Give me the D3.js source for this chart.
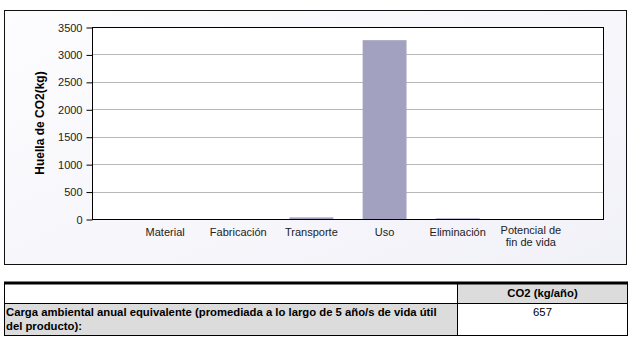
<!DOCTYPE html>
<html>
<head>
<meta charset="utf-8">
<script src="https://cdn.jsdelivr.net/npm/d3@7"></script>
<style>
  body { margin: 0; background: #ffffff; }
  text { font-family: "Liberation Sans", Arial, sans-serif; }
</style>
</head>
<body>
<div id="chart"></div>
<script>
// data
var categories = ["Material", "Fabricación", "Transporte", "Uso", "Eliminación", "Potencial de\nfin de vida"];
var co2Values = [0, 0, 30, 3260, 12, 0];
var yTicks = [0, 500, 1000, 1500, 2000, 2500, 3000, 3500];
var tableHeader = ["", "CO2 (kg/año)"];
var tableRow = ["Carga ambiental anual equivalente (promediada a lo largo de 5 año/s de vida útil\ndel producto):", "657"];

var W = 633, H = 355;
var svg = d3.select("#chart").append("svg")
    .attr("width", W)
    .attr("height", H);

var defs = svg.append("defs");
var grad = defs.append("linearGradient").attr("id", "bg")
    .attr("x1", "0").attr("y1", "0").attr("x2", "1").attr("y2", "1");
grad.append("stop").attr("offset", "0").attr("stop-color", "#fdfdff");
grad.append("stop").attr("offset", "1").attr("stop-color", "#f1f1f8");

// outer chart box
svg.append("rect")
    .attr("x", 4.5).attr("y", 10.5)
    .attr("width", 622).attr("height", 254)
    .attr("fill", "url(#bg)")
    .attr("stroke", "#111").attr("stroke-width", 1);

var plot = {left: 92, top: 27, right: 604, bottom: 219};

svg.append("rect")
    .attr("x", plot.left).attr("y", plot.top)
    .attr("width", plot.right - plot.left).attr("height", plot.bottom - plot.top)
    .attr("fill", "#ffffff");

var x = d3.scalePoint()
    .domain(categories)
    .range([plot.left, plot.right])
    .padding(1);

var y = d3.scaleLinear()
    .domain([0, 3500])
    .range([plot.bottom, plot.top]);

// grid lines
svg.append("g").selectAll("line")
    .data(yTicks.slice(1, -1))
    .join("line")
    .attr("x1", plot.left).attr("x2", plot.right)
    .attr("y1", function(d){ return Math.round(y(d)) + 0.5; })
    .attr("y2", function(d){ return Math.round(y(d)) + 0.5; })
    .attr("stroke", "#b8b8b8").attr("stroke-width", 1);

// bars
var barW = x.step() * 0.6;
svg.append("g").selectAll("rect")
    .data(categories)
    .join("rect")
    .attr("x", function(d){ return x(d) - barW / 2; })
    .attr("y", function(d, i){ return y(co2Values[i]); })
    .attr("width", barW)
    .attr("height", function(d, i){ return y(0) - y(co2Values[i]); })
    .attr("fill", "#a3a1c0");

// plot frame
svg.append("rect")
    .attr("x", plot.left + 0.5).attr("y", plot.top + 0.5)
    .attr("width", plot.right - plot.left - 1).attr("height", plot.bottom - plot.top)
    .attr("fill", "none")
    .attr("stroke", "#000").attr("stroke-width", 1);

// y axis
var yAxis = svg.append("g")
    .attr("transform", "translate(" + (plot.left + 0.5) + ",0.5)")
    .call(d3.axisLeft(y).tickValues(yTicks).tickSize(6).tickPadding(4).tickFormat(d3.format("d")));
yAxis.select(".domain").remove();
yAxis.selectAll("line").attr("stroke", "#000");
yAxis.selectAll("text")
    .attr("font-size", 11)
    .attr("fill", "#222")
    .attr("font-family", "Liberation Sans, Arial, sans-serif");

// y title
svg.append("text")
    .attr("transform", "translate(44," + ((plot.top + plot.bottom) / 2) + ") rotate(-90)")
    .attr("text-anchor", "middle")
    .attr("font-size", 12)
    .attr("font-weight", "bold")
    .attr("fill", "#000")
    .text("Huella de CO2(kg)");

// category labels
var catLabels = svg.append("g").selectAll("text")
    .data(categories)
    .join("text")
    .attr("x", function(d){ return x(d); })
    .attr("y", 236)
    .attr("text-anchor", "middle")
    .attr("font-size", 11)
    .attr("fill", "#222");
catLabels.each(function(d){
    var lines = d.split("\n");
    var t = d3.select(this);
    lines.forEach(function(line, i){
        t.append("tspan")
            .attr("x", x(d))
            .attr("dy", i === 0 ? (lines.length > 1 ? -2 : 0) : 11.5)
            .text(line);
    });
});

// table below the chart
var tbl = {left: 4, right: 628, split: 457, top: 283, mid: 303, bottom: 336};

svg.append("rect")
    .attr("x", tbl.split).attr("y", tbl.top)
    .attr("width", tbl.right - tbl.split).attr("height", tbl.mid - tbl.top)
    .attr("fill", "#dcdcdc");
svg.append("rect")
    .attr("x", tbl.left).attr("y", tbl.mid)
    .attr("width", tbl.split - tbl.left).attr("height", tbl.bottom - tbl.mid)
    .attr("fill", "#dcdcdc");

var tLines = svg.append("g").attr("stroke", "#000");
tLines.append("rect")
    .attr("x", tbl.left + 0.5).attr("y", tbl.top)
    .attr("width", tbl.right - tbl.left - 1).attr("height", tbl.bottom - tbl.top - 0.5)
    .attr("fill", "none").attr("stroke-width", 1);
tLines.append("line")
    .attr("x1", tbl.left).attr("x2", tbl.right)
    .attr("y1", tbl.top).attr("y2", tbl.top)
    .attr("stroke-width", 3);
tLines.append("line")
    .attr("x1", tbl.left).attr("x2", tbl.right)
    .attr("y1", tbl.mid + 0.5).attr("y2", tbl.mid + 0.5)
    .attr("stroke-width", 1);
tLines.append("line")
    .attr("x1", tbl.split + 0.5).attr("x2", tbl.split + 0.5)
    .attr("y1", tbl.top).attr("y2", tbl.bottom)
    .attr("stroke-width", 1);

svg.append("text")
    .attr("x", (tbl.split + tbl.right) / 2)
    .attr("y", 297)
    .attr("text-anchor", "middle")
    .attr("font-size", 11.3)
    .attr("font-weight", "bold")
    .attr("fill", "#000")
    .text(tableHeader[1]);

var rowText = svg.append("text")
    .attr("x", 6)
    .attr("y", 316)
    .attr("font-size", 11.3)
    .attr("font-weight", "bold")
    .attr("fill", "#000");
tableRow[0].split("\n").forEach(function(line, i){
    rowText.append("tspan")
        .attr("x", 6)
        .attr("dy", i === 0 ? 0 : 14)
        .text(line);
});

svg.append("text")
    .attr("x", (tbl.split + tbl.right) / 2)
    .attr("y", 316)
    .attr("text-anchor", "middle")
    .attr("font-size", 11.3)
    .attr("fill", "#000")
    .text(tableRow[1]);
</script>
</body>
</html>
